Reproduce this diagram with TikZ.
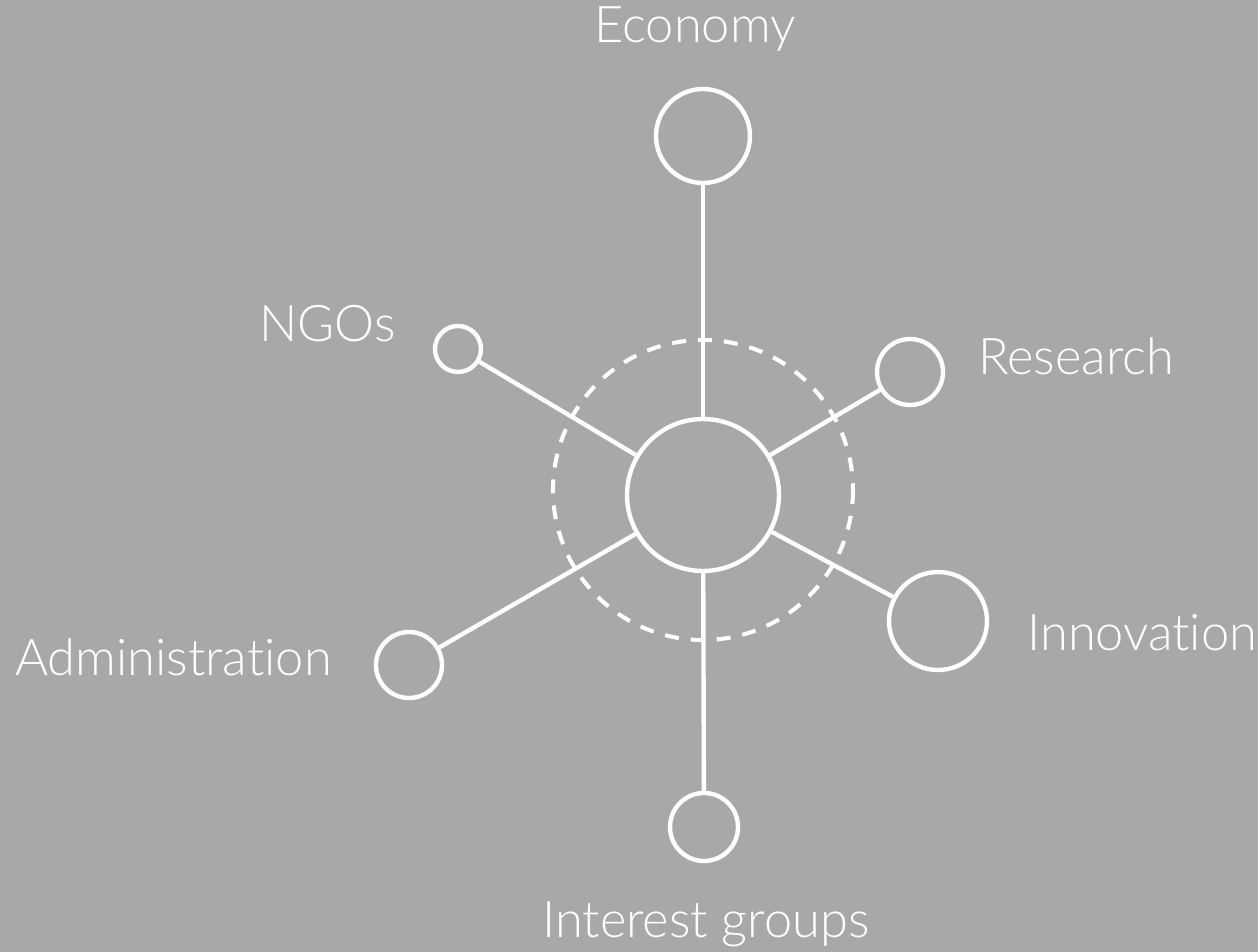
\documentclass[tikz,border=0pt]{standalone}
\usepackage{fontspec}
\setmainfont{Lato Light}[Ligatures={NoCommon,NoContextual}]
\definecolor{panel}{RGB}{167,168,170}
\begin{document}
\begin{tikzpicture}[x=0.02cm, y=-0.02cm,
    hub/.style={draw=white, circle, inner sep=0pt, line width=2.5pt},
    tag/.style={text=white, inner sep=0pt, font=\fontsize{28.8}{32}\selectfont}]
        % stakeholder network around the centre
        \fill[panel] (0,0) rectangle (1258,952);
        \draw[white, line width=2.3pt, dash pattern=on 0.28cm off 0.24cm] (703,490) circle[radius=150];

        \node[hub, minimum size=3.04cm] (core) at (703,495) {};
        \node[hub, minimum size=1.88cm] (economy) at (703,136) {};
        \node[hub, minimum size=0.92cm] (ngos) at (458,349) {};
        \node[hub, minimum size=1.32cm] (research) at (910,372) {};
        \node[hub, minimum size=1.96cm] (innovation) at (938,621) {};
        \node[hub, minimum size=1.32cm] (admin) at (409,665) {};
        \node[hub, minimum size=1.36cm] (interest) at (704,827) {};

        \node[tag, anchor=base] (economylbl) at (695,43) {Economy};
        \node[tag, anchor=base east] (ngoslbl) at (396,342) {NGOs};
        \node[tag, anchor=base west] (researchlbl) at (978,375) {Research};
        \node[tag, anchor=base west] (innovationlbl) at (1027,650) {Innovation};
        \node[tag, anchor=base east] (adminlbl) at (332,676) {Administration};
        \node[tag, anchor=base] (interestlbl) at (706,937) {Interest groups};

        \draw[white, line width=2.5pt] (core) -- (economy);
        \draw[white, line width=2.5pt] (core) -- (ngos);
        \draw[white, line width=2.5pt] (core) -- (research);
        \draw[white, line width=2.5pt] (core) -- (innovation);
        \draw[white, line width=2.5pt] (core) -- (admin);
        \draw[white, line width=2.5pt] (core) -- (interest);
    \end{tikzpicture}
\end{document}
